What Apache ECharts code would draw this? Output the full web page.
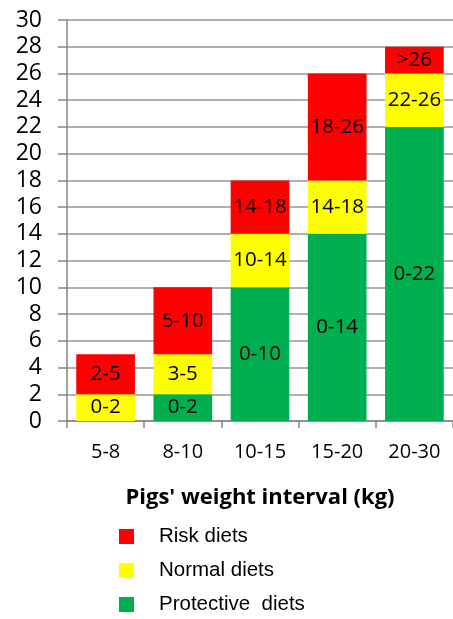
<!DOCTYPE html>
<html><head><meta charset="utf-8">
<script src="https://cdn.jsdelivr.net/npm/echarts@6/dist/echarts.min.js"></script>
<style>html,body{margin:0;padding:0;background:#fff}#c{width:453px;height:619px}</style>
</head><body><div id="c"></div>
<script>
const categories = ['5-8', '8-10', '10-15', '15-20', '20-30'];
const protectiveValues = [0, 2, 10, 14, 22];
const normalValues = [2, 3, 4, 4, 4];
const riskValues = [3, 5, 4, 8, 2];
const protectiveLabels = ['', '0-2', '0-10', '0-14', '0-22'];
const normalLabels = ['0-2', '3-5', '10-14', '14-18', '22-26'];
const riskLabels = ['2-5', '5-10', '14-18', '18-26', '>26'];
const seriesNames = ['Protective  diets', 'Normal diets', 'Risk diets'];
const yTicks = { min: 0, max: 30, interval: 2 };

const chart = echarts.init(document.getElementById('c'));
const lbl = (arr) => ({
  show: true, position: 'inside', color: '#000',
  fontFamily: 'Open Sans', fontSize: 20.5,
  formatter: p => arr[p.dataIndex]
});
chart.setOption({
  animation: false,
  grid: { left: 67, top: 20, bottom: 198, right: -11.5, containLabel: false },
  legend: {
    orient: 'vertical', left: 119, top: 526, padding: 0,
    data: [seriesNames[2], seriesNames[1], seriesNames[0]],
    itemWidth: 15, itemHeight: 15, itemGap: 13,
    icon: 'rect',
    textStyle: { fontFamily: 'Liberation Sans', fontSize: 20.5, color: '#000', padding: [0, 0, 0, 20], lineHeight: 21 }
  },
  xAxis: {
    type: 'category', data: categories,
    axisLine: { lineStyle: { color: '#868686', width: 1.5 } },
    axisTick: { show: true, length: 7, lineStyle: { color: '#868686', width: 1.5 } },
    axisLabel: { color: '#000', fontFamily: 'Open Sans', fontSize: 20, margin: 21 },
    name: "Pigs' weight interval (kg)", nameLocation: 'middle', nameGap: 66,
    nameTextStyle: { color: '#000', fontFamily: 'Open Sans', fontWeight: 'bold', fontSize: 22 }
  },
  yAxis: {
    type: 'value', min: yTicks.min, max: yTicks.max, interval: yTicks.interval,
    axisLine: { show: true, lineStyle: { color: '#868686', width: 1.5 } },
    axisTick: { show: true, length: 9, lineStyle: { color: '#868686', width: 1.5 } },
    splitLine: { lineStyle: { color: '#969696', width: 1.5 } },
    axisLabel: { color: '#000', fontFamily: 'Open Sans', fontSize: 23, margin: 25 }
  },
  series: [
    { name: seriesNames[0], type: 'bar', stack: 's', data: protectiveValues, barCategoryGap: '24%',
      itemStyle: { color: '#00B050' }, label: lbl(protectiveLabels) },
    { name: seriesNames[1], type: 'bar', stack: 's', data: normalValues,
      itemStyle: { color: '#FFFF00' }, label: lbl(normalLabels) },
    { name: seriesNames[2], type: 'bar', stack: 's', data: riskValues,
      itemStyle: { color: '#FF0000' }, label: lbl(riskLabels) }
  ]
});
</script></body></html>
